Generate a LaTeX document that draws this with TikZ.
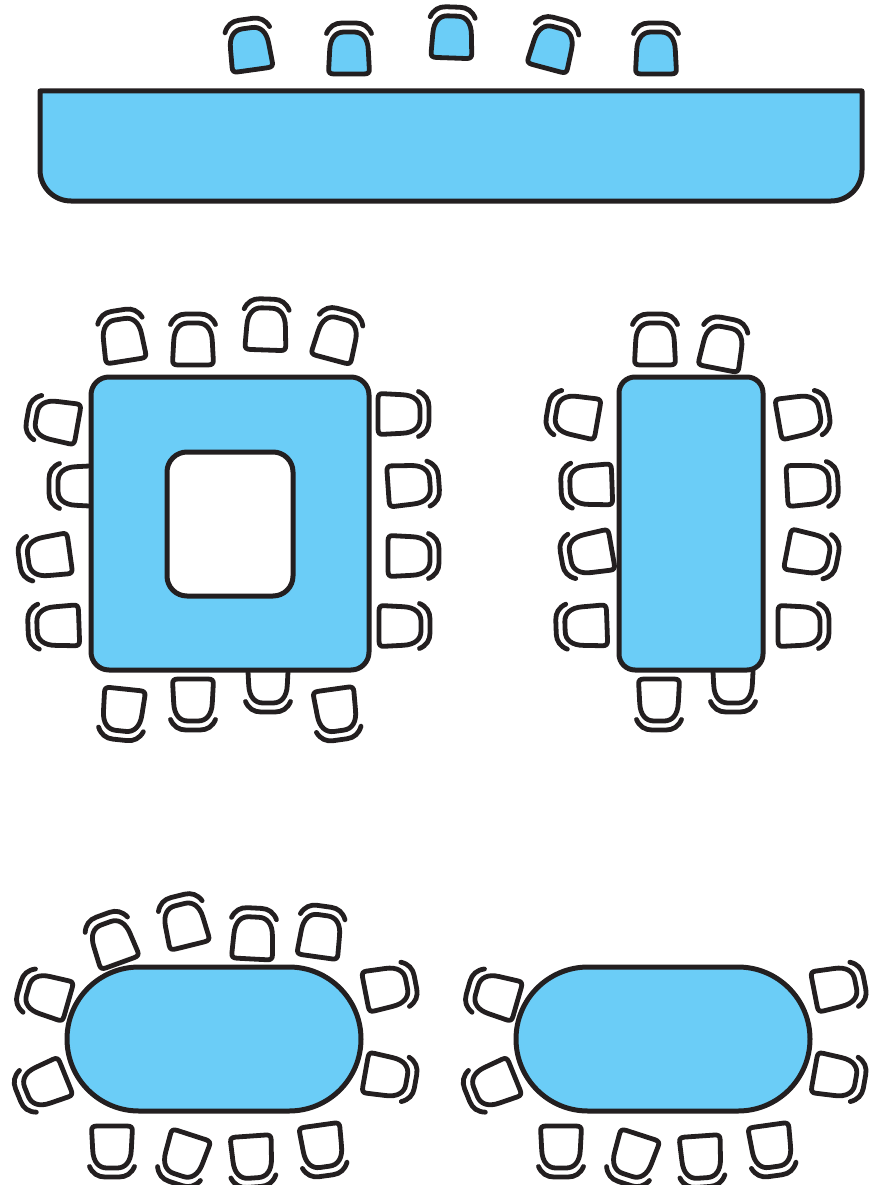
\documentclass[tikz,border=0pt]{standalone}
\definecolor{tbl}{HTML}{6BCDF7}
\definecolor{ink}{HTML}{231F20}
\tikzset{
  tablebox/.style={draw=ink,fill=tbl,line width=5pt,line join=round},
  holebox/.style={draw=ink,fill=white,line width=5pt},
  seatbody/.style={draw=ink,line width=4.8pt,line join=round},
  seatback/.style={draw=ink,line width=4.8pt,line cap=round}
}
% \seat{x}{y}{clockwise rotation}{fill}
\newcommand{\seat}[4]{%
  \begin{scope}[shift={(#1,#2)},rotate=-#3]
    \draw[seatbody,fill=#4] (-15,21) .. controls (-19,21) and (-20.5,19.5) .. (-20.3,16)
      -- (-19.3,-3) .. controls (-18.8,-15) and (-13,-21) .. (-5,-21)
      -- (5,-21) .. controls (13,-21) and (18.8,-15) .. (19.3,-3)
      -- (20.3,16) .. controls (20.5,19.5) and (19,21) .. (15,21) -- cycle;
    \draw[seatback] (-22.5,-19.5) .. controls (-19.5,-26.5) and (-14,-30) .. (-7,-30)
      -- (7,-30) .. controls (14,-30) and (19.5,-26.5) .. (22.5,-19.5);
  \end{scope}}
\begin{document}
\begin{tikzpicture}[x=1pt,y=-1pt]
\useasboundingbox (0,0) rectangle (874,1185);
% counter / top table
\foreach \a/\b/\c in {250/49/-8,349/53/0,452/37/2,552/48/15,656/53/0}{\seat{\a}{\b}{\c}{tbl}}
\draw[tablebox] (40,91) -- (862,91) -- (862,170) arc[start angle=0,end angle=90,radius=31] -- (71,201) arc[start angle=90,end angle=180,radius=31] -- cycle;
% square table
\foreach \a/\b/\c in {123/340/-9,193/344/0,266/329/2,336/339/15,
  399/414/90,409/485/86,409/556/90,400/626/90,
  57/421/-80,79/486/-90,49/556/-98,58/626/-92,
  123/710/186,193/700/180,268/682/180,336/710/172}{\seat{\a}{\b}{\c}{white}}
\draw[tablebox,rounded corners=18pt] (91,377) rectangle (369,670);
\draw[holebox,rounded corners=20pt] (167,452) rectangle (293,596);
% rectangular table
\foreach \a/\b/\c in {655/344/0,722/348/11,
  577/416/-80,591/485/-92,591/553/-100,586/626/-92,
  799/416/80,808/485/87,808/553/101,799/626/90,
  659/700/180,733/682/180}{\seat{\a}{\b}{\c}{white}}
\draw[tablebox,rounded corners=16pt] (619,377) rectangle (763,670);
% oval table, left
\foreach \a/\b/\c in {113/943/-20,185/925/-14,253/938/3,320/936/8,
  48/996/-74,46/1084/-112,386/988/79,386/1076/100,
  112/1147/180,185/1155/198,252/1157/176,322/1146/172}{\seat{\a}{\b}{\c}{white}}
\draw[tablebox,rounded corners=72pt] (67,967) rectangle (361,1111);
% oval table, right
\foreach \a/\b/\c in {497/996/-74,495/1084/-112,835/988/79,835/1076/100,
  561/1147/180,634/1155/198,701/1157/176,771/1146/172}{\seat{\a}{\b}{\c}{white}}
\draw[tablebox,rounded corners=72pt] (516,967) rectangle (810,1111);
\end{tikzpicture}
\end{document}
